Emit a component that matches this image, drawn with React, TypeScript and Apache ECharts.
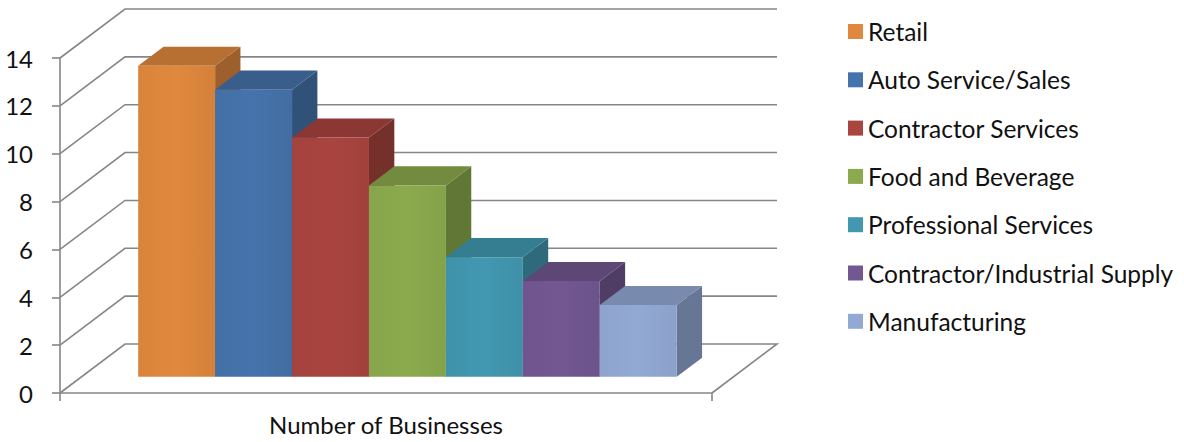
import React, { useEffect, useRef } from 'react';
import * as echarts from 'echarts';

const categories = ['Number of Businesses'];
const seriesNames = [
  'Retail',
  'Auto Service/Sales',
  'Contractor Services',
  'Food and Beverage',
  'Professional Services',
  'Contractor/Industrial Supply',
  'Manufacturing',
];
const seriesValues = [13, 12, 10, 8, 5, 4, 3];
const seriesColors = ['#E0883D', '#4573AB', '#A9443F', '#8BAA4D', '#4198B0', '#725791', '#92A9D4'];
const yTicks = [0, 2, 4, 6, 8, 10, 12, 14];

function shade(hex: string, f: number): string {
  const n = parseInt(hex.slice(1), 16);
  const r = Math.round(((n >> 16) & 255) * f);
  const g = Math.round(((n >> 8) & 255) * f);
  const b = Math.round((n & 255) * f);
  return `rgb(${r},${g},${b})`;
}

export default function App() {
  const ref = useRef<HTMLDivElement>(null);
  useEffect(() => {
    if (!ref.current) return;
    const chart = echarts.init(ref.current, null, { renderer: 'svg' });
    const FONT = 'Lato';
    const FS = 24;
    const LEGEND_FS = 24.5;
    const GRID_COLOR = '#868686';
    const DEPTH = [65, -49];
    const BAR_FRONT = 0.33;
    const BAR_BACK = 0.72;
    const BAR_SHARE = 0.118;

    const wallSeries: any = {
      type: 'custom',
      name: 'walls',
      silent: true,
      z: 1,
      data: yTicks.map((v) => [0, v]),
      renderItem: (_params: any, api: any) => {
        const v = api.value(1);
        const p = api.coord([0, v]);
        const band = api.size([1, 0])[0];
        const l = p[0] - band / 2;
        const r = p[0] + band / 2;
        const pts: number[][] = [
          [l, p[1]],
          [l + DEPTH[0], p[1] + DEPTH[1]],
          [r + DEPTH[0], p[1] + DEPTH[1]],
        ];
        if (v === 0) pts.push([r, p[1]]);
        return {
          type: 'polyline',
          shape: { points: pts },
          style: { stroke: GRID_COLOR, lineWidth: 1.6, fill: null },
        };
      },
    };

    const barSeries = seriesNames.map((name, i) => ({
      type: 'custom',
      name,
      z: 2,
      itemStyle: { color: seriesColors[i] },
      data: [[0, seriesValues[i]]],
      renderItem: (_params: any, api: any) => {
        const base = api.coord([api.value(0), 0]);
        const top = api.coord([api.value(0), api.value(1)]);
        const band = api.size([1, 0])[0];
        const w = band * BAR_SHARE;
        const start = base[0] - (w * seriesNames.length) / 2 + i * w;
        const fx = DEPTH[0] * BAR_FRONT;
        const fy = DEPTH[1] * BAR_FRONT;
        const dx = DEPTH[0] * (BAR_BACK - BAR_FRONT);
        const dy = DEPTH[1] * (BAR_BACK - BAR_FRONT);
        const x0 = start + fx;
        const x1 = x0 + w;
        const yb = base[1] + fy;
        const yt = top[1] + fy;
        const c = seriesColors[i];
        return {
          type: 'group',
          children: [
            {
              type: 'polygon',
              shape: { points: [[x1, yb], [x1 + dx, yb + dy], [x1 + dx, yt + dy], [x1, yt]] },
              style: { fill: shade(c, 0.7) },
            },
            {
              type: 'polygon',
              shape: { points: [[x0, yt], [x0 + dx, yt + dy], [x1 + dx, yt + dy], [x1, yt]] },
              style: { fill: shade(c, 0.82) },
            },
            {
              type: 'rect',
              shape: { x: x0, y: yt, width: w, height: yb - yt },
              style: {
                fill: new echarts.graphic.LinearGradient(0, 0, 1, 0, [
                  { offset: 0, color: shade(c, 0.97) },
                  { offset: 0.5, color: c },
                  { offset: 1, color: shade(c, 0.95) },
                ]),
              },
            },
          ],
        };
      },
    }));

    chart.setOption({
      animation: false,
      backgroundColor: '#ffffff',
      textStyle: { fontFamily: FONT },
      grid: { left: 60, top: 58, width: 652, height: 335, containLabel: false },
      xAxis: {
        type: 'category',
        data: categories,
        axisLine: { show: true, lineStyle: { color: GRID_COLOR, width: 1.6 } },
        axisTick: { show: true, length: 8, interval: 0, lineStyle: { color: GRID_COLOR, width: 1.6 } },
        axisLabel: { margin: 19, fontFamily: FONT, fontSize: FS, color: '#111' },
        splitLine: { show: false },
      },
      yAxis: {
        type: 'value',
        min: 0,
        max: 14,
        interval: 2,
        axisLine: { show: true, lineStyle: { color: GRID_COLOR, width: 1.6 } },
        axisTick: { show: true, length: 8, lineStyle: { color: GRID_COLOR, width: 1.6 } },
        axisLabel: { margin: 27, fontFamily: FONT, fontSize: FS, color: '#111' },
        splitLine: { show: false },
      },
      legend: {
        data: seriesNames,
        orient: 'vertical',
        left: 848,
        top: 19,
        padding: 0,
        itemWidth: 15,
        itemHeight: 15,
        itemGap: 23.3,
        icon: 'rect',
        selectedMode: false,
        textStyle: { fontFamily: FONT, fontSize: LEGEND_FS, color: '#111', lineHeight: 24 },
      },
      series: [wallSeries, ...barSeries],
    });
    return () => chart.dispose();
  }, []);
  return (
    <div
      ref={ref}
      style={{ position: 'fixed', left: 0, top: 0, width: 1184, height: 442 }}
    />
  );
}
